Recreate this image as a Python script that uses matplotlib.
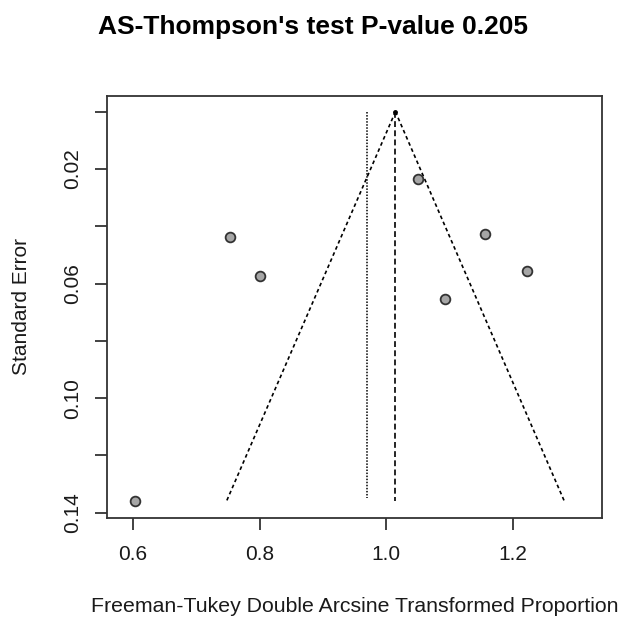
import numpy as np
import matplotlib.pyplot as plt

plt.rcParams['font.family'] = ['Liberation Sans', 'DejaVu Sans']

# Data
est = [1.0495, 0.7524, 0.7997, 1.1562, 1.2219, 1.0930, 0.6025]   # transformed proportion
se = [0.0235, 0.0436, 0.0572, 0.0427, 0.0558, 0.0654, 0.1360]    # standard error
pooled = 1.0142      # pooled estimate (apex of funnel)
adjusted = 0.9696    # dotted reference line
se_max = 0.1360

x_ticks = [0.6, 0.8, 1.0, 1.2]
y_ticks = [0.00, 0.02, 0.04, 0.06, 0.08, 0.10, 0.12, 0.14]
y_labels = ['', '0.02', '', '0.06', '', '0.10', '', '0.14']

text_col = '#1a1a1a'

# 1) canvas and axis
fig = plt.figure(figsize=(6.24, 6.20), dpi=100)
ax = fig.add_axes([107/624, 1 - 517.5/620, 495/624, 421.5/620])

# 2) funnel region (pseudo 95% CI)
se_line = np.array([0.0, se_max])
ax.plot(pooled - 1.96*se_line, se_line, color='black', lw=1.2, dashes=(2.2, 1.8))
ax.plot(pooled + 1.96*se_line, se_line, color='black', lw=1.2, dashes=(2.2, 1.8))
ax.plot([pooled, pooled], [0, se_max], color='black', lw=1.2, dashes=(3.5, 2.0))
ax.plot([adjusted, adjusted], [0, se_max - 0.0012], color='black', lw=1.1, dashes=(1.0, 1.0))
ax.plot([pooled], [0], 'o', color='black', ms=2.5)

# 3) studies
ax.plot(est, se, 'o', ms=7, mfc='#a6a6a6', mec='#333333', mew=1.3, ls='none')

# 4) axes, ticks
ax.set_xlim(0.559, 1.3402)
ax.set_ylim(0.1417, -0.00548)
ax.set_xticks(x_ticks)
ax.set_xticklabels(['%.1f' % v for v in x_ticks])
ax.set_yticks(y_ticks)
ax.set_yticklabels(y_labels, rotation=90, va='center')
ax.tick_params(axis='both', length=8.6, width=1.3, color='#333333',
               labelsize=15, labelcolor=text_col)
ax.tick_params(axis='x', pad=11)
ax.tick_params(axis='y', pad=9)
for sp in ax.spines.values():
    sp.set_linewidth(1.3)
    sp.set_color('#333333')

# 5) titles
fig.text(313/624, 1 - 27/620, "AS-Thompson's test P-value 0.205", ha='center', va='center',
         fontsize=19, fontweight='bold', color='black')
fig.text(355/624, 1 - 606/620, 'Freeman-Tukey Double Arcsine Transformed Proportion',
         ha='center', va='center', fontsize=15.3, color=text_col)
fig.text(22/624, 1 - 306.5/620, 'Standard Error', rotation=90, ha='center', va='center',
         fontsize=15, color=text_col)

fig.savefig('out.png', dpi=100)
